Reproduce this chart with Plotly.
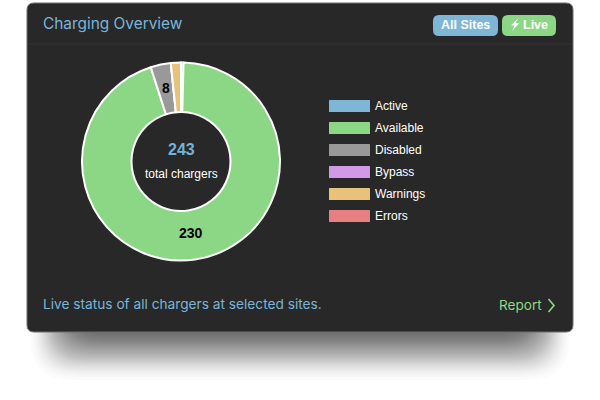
import math
import plotly.graph_objects as go

W, H = 600, 400

categories = ["Active", "Available", "Disabled", "Bypass", "Warnings", "Errors"]
values = [1, 230, 8, 0, 4, 0]
labelled = ["Available", "Disabled"]
colors = ["#7eb6d8", "#8cd786", "#999999", "#d09ae6", "#e6c27a", "#e67f7f"]
total_label = "243"

CARD = "#282828"
BLUE = "#78b6da"
GREEN = "#8cd786"
UI_FONT = "Inter, Roboto, sans-serif"
SANS = "Liberation Sans, Arial, sans-serif"


def px(x):
    return x / W


def py(y):
    return 1 - y / H


def rrect(x0, y0, x1, y1, r):
    X0, X1, Y0, Y1 = px(x0), px(x1), py(y0), py(y1)
    rx, ry = r / W, r / H
    return (
        f"M {X0 + rx} {Y0} L {X1 - rx} {Y0} Q {X1} {Y0} {X1} {Y0 - ry} "
        f"L {X1} {Y1 + ry} Q {X1} {Y1} {X1 - rx} {Y1} "
        f"L {X0 + rx} {Y1} Q {X0} {Y1} {X0} {Y1 + ry} "
        f"L {X0} {Y0 - ry} Q {X0} {Y0} {X0 + rx} {Y0} Z"
    )


def poly(points, close=True):
    d = " ".join(
        ("M" if i == 0 else "L") + f" {px(a)} {py(b)}" for i, (a, b) in enumerate(points)
    )
    return d + (" Z" if close else "")


shapes = []
annotations = []


def add_shape(path, fill="rgba(0,0,0,0)", line=None, width=0, opacity=1):
    shapes.append(dict(
        type="path", path=path, xref="paper", yref="paper", layer="below",
        fillcolor=fill, opacity=opacity,
        line=dict(color=line or "rgba(0,0,0,0)", width=width),
    ))


def add_text(x, y, text, size, color, anchor="left", bold=False, family=SANS):
    annotations.append(dict(
        x=px(x - 2 if anchor == "left" else x), y=py(y), xref="paper", yref="paper",
        text=f"<b>{text}</b>" if bold else text,
        showarrow=False, xanchor=anchor, yanchor="middle",
        font=dict(size=size, color=color, family=family),
    ))


# soft drop shadow below the card, layers spaced like a blur falloff
LAYERS = 60
for i in range(LAYERS):
    t = (i + 0.5) / LAYERS
    p = 0.5 - math.sin(math.asin(1 - 2 * t) / 3)
    inset = 66 * p
    bottom = 384 - 76 * p
    add_shape(rrect(27 + inset, 270, 573 - inset, bottom, 42 - 14 * p),
              fill="#000000", opacity=0.0145)

# card
add_shape(rrect(27, 3, 573, 332, 7), fill=CARD, line="#6e6e6e", width=1)
add_shape(poly([(28, 44), (572, 44)], close=False), line="#333333", width=1)

# header and badges
add_text(43, 23.5, "Charging Overview", 15.4, BLUE, family=UI_FONT)
add_shape(rrect(433, 15, 498, 36, 6), fill="#7eb6d8")
add_shape(rrect(502, 15, 556, 36, 6), fill=GREEN)
add_text(465.5, 25, "All Sites", 12.5, "#ffffff", "center", True)
add_text(535.5, 25, "Live", 12.5, "#ffffff", "center", True)
add_shape(poly([(518.5, 18), (511, 25.5), (514.5, 25.5), (512, 31), (519.5, 23), (515.5, 23)]),
          fill="#ffffff")

# legend
for i, (name, col) in enumerate(zip(categories, colors)):
    top = 100 + 22 * i
    add_shape(rrect(329, top, 370, top + 12, 0.5), fill=col)
    add_text(375, top + 6, name, 12, "#ffffff", family=SANS)

# centre of doughnut
CX, CY = 181, 161
add_text(CX, 149.5, total_label, 16, "#74b3d8", "center", True)
add_text(CX, 174, "total chargers", 12, "#ffffff", "center")

# slice value labels, placed at the middle of their slices
running = 0
for name, val in zip(categories, values):
    if name in labelled:
        angle = math.radians((running + val / 2) / sum(values) * 360)
        add_text(CX + 74 * math.sin(angle), CY - 1 - 74 * math.cos(angle), str(val),
                 14, "#000000", "center", True)
    running += val

# footer
add_text(43, 304, "Live status of all chargers at selected sites.", 13.7, BLUE, family=UI_FONT)
add_text(499, 305, "Report", 13.6, GREEN, family=UI_FONT)
add_shape(poly([(548.5, 299), (554, 305.5), (548.5, 312)], close=False), line=GREEN, width=1.6)

fig = go.Figure(go.Pie(
    labels=categories, values=values,
    marker=dict(colors=colors, line=dict(color="#ffffff", width=2)),
    hole=0.5, sort=False, direction="clockwise", rotation=0,
    textinfo="none", hoverinfo="skip", showlegend=False,
    domain=dict(x=[px(82), px(280)], y=[py(260.5), py(62.5)]),
))

fig.update_layout(
    width=W, height=H, margin=dict(l=0, r=0, t=0, b=0),
    paper_bgcolor="#ffffff", plot_bgcolor="#ffffff",
    shapes=shapes, annotations=annotations, showlegend=False,
)
fig.write_html("out.html", config={"displayModeBar": False},
               post_script="document.body.style.margin='0';")
